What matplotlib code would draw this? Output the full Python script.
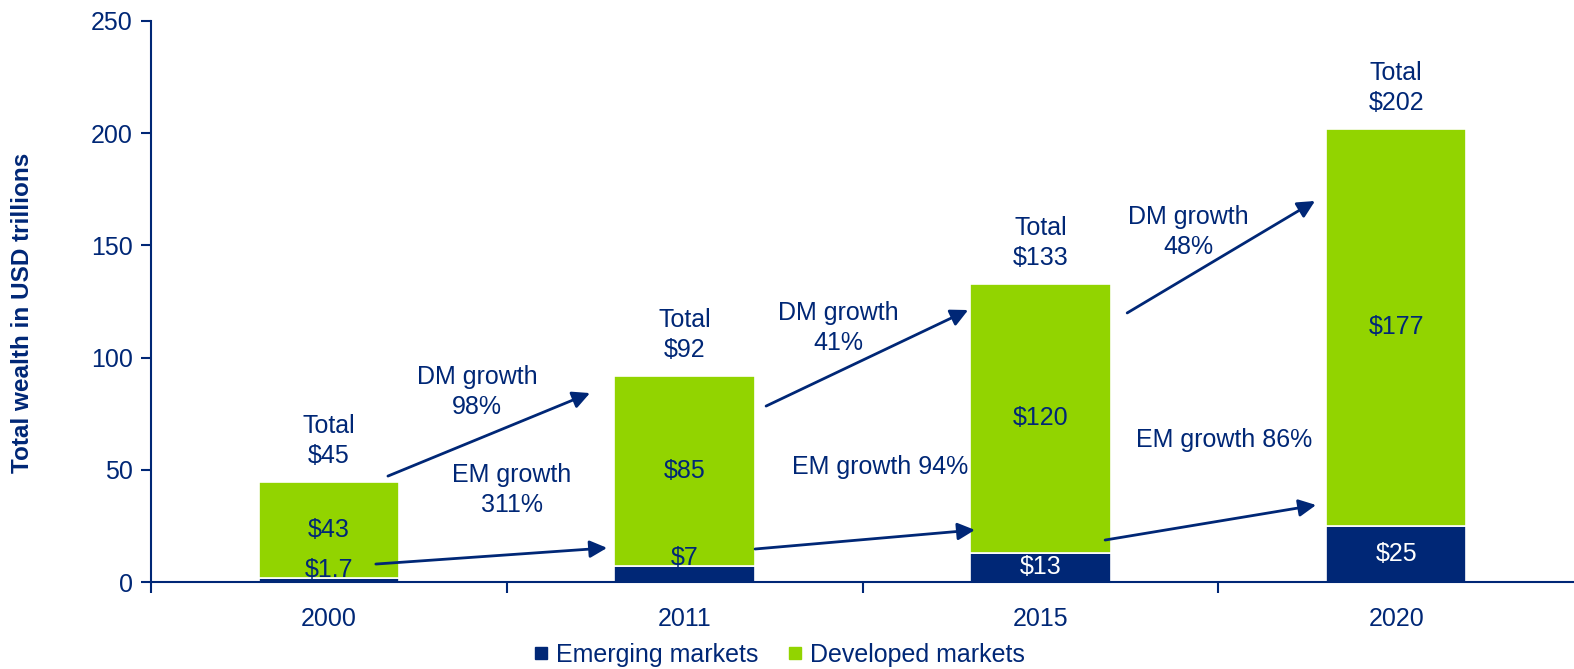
import matplotlib.pyplot as plt
from matplotlib.lines import Line2D

plt.rcParams['font.family'] = ['Liberation Sans', 'DejaVu Sans']

years = ['2000', '2011', '2015', '2020']
em = [1.7, 7, 13, 25]
dm = [43, 85, 120, 177]
totals = ['$45', '$92', '$133', '$202']
em_labels = ['$1.7', '$7', '$13', '$25']
dm_labels = ['$43', '$85', '$120', '$177']
dm_growth = ['DM growth\n98%', 'DM growth\n41%', 'DM growth\n48%']
em_growth = ['EM growth\n311%', 'EM growth 94%', 'EM growth 86%']

navy = '#002776'
green = '#92D400'
fs = 18

# arrow start/end and growth text positions (data coords)
dm_arrows = [((0.166, 47.2), (0.734, 84.2)),
             ((1.229, 78.4), (1.797, 121.2)),
             ((2.244, 119.9), (2.772, 169.8))]
em_arrows = [((0.132, 8.0), (0.782, 15.2)),
             ((1.198, 14.7), (1.816, 23.2)),
             ((2.182, 18.7), (2.775, 34.3))]
dm_text_pos = [(0.416, 84.7), (1.431, 113.2), (2.415, 156)]
em_text_pos = [(0.515, 41.0), (1.549, 51.2), (2.516, 63.3)]

fig = plt.figure(figsize=(15.74, 6.69), dpi=100)
ax = fig.add_axes([151 / 1574, 1 - 582 / 669, 1 - 151 / 1574, (582 - 21) / 669])

x = list(range(len(years)))
w = 0.395
ax.bar(x, em, w, color=navy, edgecolor='white', linewidth=1.2, zorder=2)
ax.bar(x, dm, w, bottom=em, color=green, edgecolor='white', linewidth=1.2, zorder=2)

for i in x:
    top = em[i] + dm[i]
    ax.text(i, em[i] + dm[i] / 2, dm_labels[i], ha='center', va='center',
            fontsize=fs, color=navy, zorder=4)
    if em[i] < 10:
        ax.text(i, em[i] + 3.8, em_labels[i], ha='center', va='center',
                fontsize=fs, color=navy, zorder=4)
    else:
        ax.text(i, em[i] / 2, em_labels[i], ha='center', va='center',
                fontsize=fs, color='white', zorder=4)
    ax.annotate('Total\n' + totals[i], (i, top), xytext=(0, 10),
                textcoords='offset points', ha='center', va='bottom',
                fontsize=fs, color=navy, linespacing=1.3)

for (s, e) in dm_arrows + em_arrows:
    ax.annotate('', xy=e, xytext=s,
                arrowprops=dict(arrowstyle='-|>', color=navy, lw=2,
                                mutation_scale=26, shrinkA=0, shrinkB=0),
                zorder=5)

for (px, py), t in zip(dm_text_pos, dm_growth):
    ax.text(px, py, t, ha='center', va='center', fontsize=fs, color=navy,
            linespacing=1.3)
for (px, py), t in zip(em_text_pos, em_growth):
    ax.text(px, py, t, ha='center', va='center', fontsize=fs, color=navy,
            linespacing=1.3)

ax.set_xlim(-0.5, 3.5)
ax.set_ylim(0, 250)
ax.set_yticks(range(0, 251, 50))
ax.set_xticks(x)
ax.set_xticklabels(years)
ax.set_xticks([-0.5, 0.5, 1.5, 2.5], minor=True)
ax.tick_params(axis='x', which='major', length=0, pad=18, labelsize=fs,
               labelcolor=navy)
ax.tick_params(axis='x', which='minor', length=8, width=1.5, color=navy,
               direction='out')
ax.tick_params(axis='y', length=7, width=1.5, color=navy, pad=6,
               labelsize=fs, labelcolor=navy)

for side in ['top', 'right']:
    ax.spines[side].set_visible(False)
for side in ['left', 'bottom']:
    ax.spines[side].set_color(navy)
    ax.spines[side].set_linewidth(1.5)

ax.set_ylabel('Total wealth in USD trillions', fontsize=17.5, fontweight='bold',
              color=navy)
ax.yaxis.set_label_coords(-0.082, 0.48)

handles = [Line2D([], [], marker='s', linestyle='none', markersize=9,
                  color=navy),
           Line2D([], [], marker='s', linestyle='none', markersize=9,
                  color=green)]
fig.legend(handles, ['Emerging markets', 'Developed markets'],
           loc='lower center', bbox_to_anchor=(0.495, -0.03), ncol=2,
           frameon=False, fontsize=fs, labelcolor=navy, handlelength=0.6,
           handletextpad=0.3, columnspacing=1.2)

fig.savefig('out.png', dpi=100)
